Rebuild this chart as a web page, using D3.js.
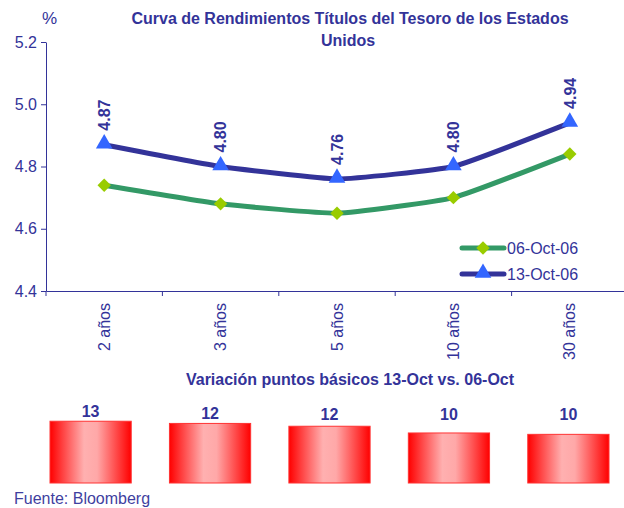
<!DOCTYPE html>
<html>
<head>
<meta charset="utf-8">
<script src="https://cdn.jsdelivr.net/npm/d3@7"></script>
<style>
  body { margin: 0; background: #fff; }
  text { font-family: "Liberation Sans", Arial, sans-serif; }
</style>
</head>
<body>
<svg id="chart"></svg>
<script>
// Data
var categories = ["2 años", "3 años", "5 años", "10 años", "30 años"];
var oct06 = [4.74, 4.68, 4.65, 4.70, 4.84];
var oct13 = [4.87, 4.80, 4.76, 4.80, 4.94];
var seriesNames = ["06-Oct-06", "13-Oct-06"];
var yTicks = [4.4, 4.6, 4.8, 5.0, 5.2];
var bpChange = [12.95, 12.49, 11.9, 10.49, 10.2];

var width = 624, height = 508;
var textColor = "#333399";

var svg = d3.select("#chart").attr("width", width).attr("height", height);

// gradient for the bars
var defs = svg.append("defs");
var grad = defs.append("linearGradient").attr("id", "barGrad")
    .attr("x1", "0%").attr("x2", "100%").attr("y1", "0%").attr("y2", "0%");
grad.append("stop").attr("offset", "0%").attr("stop-color", "#ff0000");
grad.append("stop").attr("offset", "42%").attr("stop-color", "#ffb0b0");
grad.append("stop").attr("offset", "58%").attr("stop-color", "#ffa8a8");
grad.append("stop").attr("offset", "100%").attr("stop-color", "#ff0000");

// Scales
var x = d3.scaleBand().domain(categories).range([46, 628]);
var y = d3.scaleLinear().domain([4.4, 5.2]).range([291, 42]);

// Title
svg.append("text").attr("x", 350).attr("y", 24).attr("text-anchor", "middle")
    .attr("font-size", 16).attr("font-weight", "bold").attr("fill", textColor)
    .text("Curva de Rendimientos Títulos del Tesoro de los Estados");
svg.append("text").attr("x", 348).attr("y", 46).attr("text-anchor", "middle")
    .attr("font-size", 16).attr("font-weight", "bold").attr("fill", textColor)
    .text("Unidos");
svg.append("text").attr("x", 42).attr("y", 24)
    .attr("font-size", 17).attr("fill", textColor).text("%");

// Axes
var yAxis = svg.append("g").attr("transform", "translate(46,0)")
    .call(d3.axisLeft(y).tickValues(yTicks).tickFormat(d3.format(".1f")).tickSize(5).tickSizeOuter(0));
var xAxis = svg.append("g").attr("transform", "translate(0,291)")
    .call(d3.axisBottom(x).tickSize(0).tickSizeOuter(0));

[yAxis, xAxis].forEach(function (g) {
    g.select(".domain").attr("stroke", textColor);
    g.selectAll(".tick line").attr("stroke", textColor);
    g.selectAll("text").attr("fill", textColor).attr("font-family", "Liberation Sans, Arial, sans-serif");
});
yAxis.selectAll("text").attr("font-size", 16).attr("x", -9);

xAxis.selectAll(".tick text")
    .attr("font-size", 16)
    .attr("text-anchor", "end")
    .attr("transform", "rotate(-90)")
    .attr("x", -12).attr("y", 0).attr("dy", "0.35em");

// category boundary ticks
xAxis.selectAll(".sep")
    .data(categories)
    .enter().append("line")
    .attr("x1", function (d) { return x(d); })
    .attr("x2", function (d) { return x(d); })
    .attr("y1", 0).attr("y2", 5)
    .attr("stroke", textColor);

function cx(d, i) { return x(categories[i]) + x.bandwidth() / 2; }

var line = d3.line()
    .x(function (d, i) { return cx(d, i); })
    .y(function (d) { return y(d); })
    .curve(d3.curveCardinal.tension(0.6));

// green series
svg.append("path").datum(oct06).attr("d", line)
    .attr("fill", "none").attr("stroke", "#339966").attr("stroke-width", 5);
// blue series
svg.append("path").datum(oct13).attr("d", line)
    .attr("fill", "none").attr("stroke", "#333399").attr("stroke-width", 5);

var diamond = d3.symbol().type(d3.symbolSquare).size(90);
var triangle = d3.symbol().type(d3.symbolTriangle).size(120);

svg.selectAll(".dia").data(oct06).enter().append("path")
    .attr("d", diamond)
    .attr("transform", function (d, i) { return "translate(" + cx(d, i) + "," + y(d) + ") rotate(45)"; })
    .attr("fill", "#99cc00");

svg.selectAll(".tri").data(oct13).enter().append("path")
    .attr("d", triangle)
    .attr("transform", function (d, i) { return "translate(" + cx(d, i) + "," + (y(d) - 1) + ")"; })
    .attr("fill", "#3366ff");

// data labels (rotated)
svg.selectAll(".lab").data(oct13).enter().append("text")
    .attr("transform", function (d, i) { return "translate(" + cx(d, i) + "," + (y(d) - 14) + ") rotate(-90)"; })
    .attr("dy", "0.36em")
    .attr("font-size", 16).attr("font-weight", "bold").attr("fill", textColor)
    .text(function (d) { return d3.format(".2f")(d); });

// Legend
var legend = svg.append("g");
var legendRows = [
    { name: seriesNames[0], stroke: "#339966", fill: "#99cc00", sym: diamond, rot: 45, yy: 248 },
    { name: seriesNames[1], stroke: "#333399", fill: "#3366ff", sym: triangle, rot: 0, yy: 274 }
];
legendRows.forEach(function (r) {
    legend.append("line").attr("x1", 462).attr("x2", 504).attr("y1", r.yy).attr("y2", r.yy)
        .attr("stroke", r.stroke).attr("stroke-width", 5).attr("stroke-linecap", "round");
    legend.append("path").attr("d", r.sym)
        .attr("transform", "translate(483," + (r.yy - (r.rot ? 0 : 1)) + ") rotate(" + r.rot + ")")
        .attr("fill", r.fill);
    legend.append("text").attr("x", 507).attr("y", r.yy + 6)
        .attr("font-size", 16).attr("fill", textColor).text(r.name);
});

// Bottom bar panel
svg.append("text").attr("x", 350).attr("y", 385).attr("text-anchor", "middle")
    .attr("font-size", 16).attr("font-weight", "bold").attr("fill", textColor)
    .text("Variación puntos básicos 13-Oct vs. 06-Oct");

var bx = d3.scaleBand().domain(categories).range([50, 609]).paddingInner(0.32).paddingOuter(0);
var by = d3.scaleLinear().domain([0, 13]).range([483, 421]);

svg.selectAll(".bar").data(bpChange).enter().append("rect")
    .attr("x", function (d, i) { return bx(categories[i]); })
    .attr("width", bx.bandwidth())
    .attr("y", function (d) { return by(d); })
    .attr("height", function (d) { return by(0) - by(d); })
    .attr("fill", "url(#barGrad)")
    .attr("stroke", "#ff3333").attr("stroke-width", 1);

svg.selectAll(".blab").data(bpChange).enter().append("text")
    .attr("x", function (d, i) { return bx(categories[i]) + bx.bandwidth() / 2; })
    .attr("y", function (d) { return Math.min(by(d) - 4, 420); })
    .attr("text-anchor", "middle")
    .attr("font-size", 16).attr("font-weight", "bold").attr("fill", textColor)
    .text(function (d) { return d3.format(".0f")(d); });

svg.append("text").attr("x", 14).attr("y", 504)
    .attr("font-size", 16).attr("fill", "#3f3f9f").text("Fuente: Bloomberg");
</script>
</body>
</html>
